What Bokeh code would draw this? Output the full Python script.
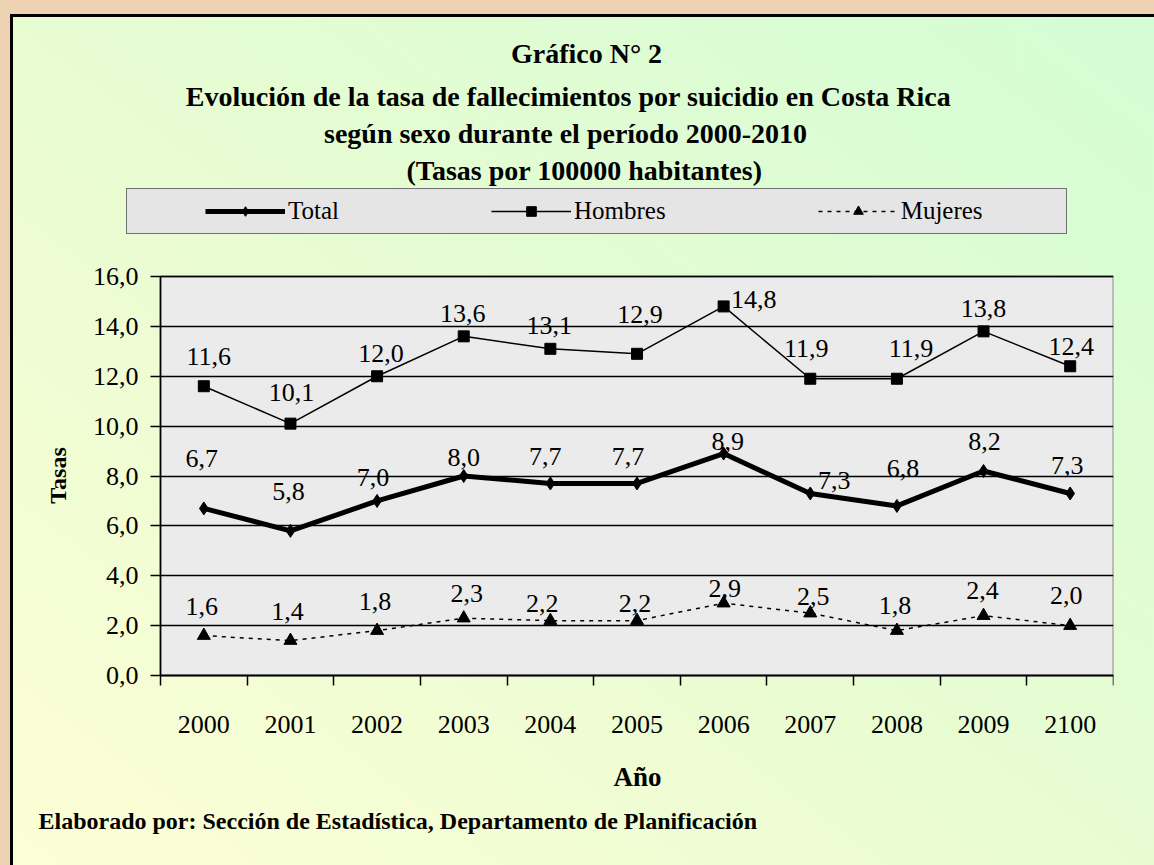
import math
from bokeh.plotting import figure
from bokeh.models import (Legend, LegendItem, FixedTicker, ColumnDataSource, Range1d, Label)
from bokeh.core.properties import value
from bokeh.embed import file_html
from bokeh.resources import INLINE

# ---------------- data ----------------
years = ["2000", "2001", "2002", "2003", "2004", "2005", "2006", "2007", "2008", "2009", "2100"]
total = [6.7, 5.8, 7.0, 8.0, 7.7, 7.7, 8.9, 7.3, 6.8, 8.2, 7.3]
hombres = [11.6, 10.1, 12.0, 13.6, 13.1, 12.9, 14.8, 11.9, 11.9, 13.8, 12.4]
mujeres = [1.6, 1.4, 1.8, 2.3, 2.2, 2.2, 2.9, 2.5, 1.8, 2.4, 2.0]
y_ticks = [0, 2, 4, 6, 8, 10, 12, 14, 16]
y_tick_labels = ["0,0", "2,0", "4,0", "6,0", "8,0", "10,0", "12,0", "14,0", "16,0"]
series_names = ["Total", "Hombres", "Mujeres"]

title_lines = [
    "Gráfico N° 2",
    "Evolución de la tasa de fallecimientos por suicidio en Costa Rica",
    "según sexo durante el período 2000-2010",
    "(Tasas por 100000 habitantes)",
]
x_title = "Año"
y_title = "Tasas"
footer = "Elaborado por: Sección de Estadística, Departamento de Planificación"

# ---------------- label placement (style, screen px) ----------------
tot_dx = [-2, -2, -4, 0, -5, -9, 4, 24, 6, 1, -3]
tot_dy = [-50, -39, -23, -19, -27, -27, -12, -13, -37, -30, -28]
hom_dx = [5, 1, 4, -1, -1, 3, 30, -4, 14, 0, 1]
hom_dy = [-30, -31, -23, -23, -23, -39, -7, -30, -30, -23, -20]
muj_dx = [-2, -3, -2, 3, -8, -2, 1, 3, -2, -1, -4]
muj_dy = [-29, -29, -29, -25, -17, -17, -15, -17, -25, -25, -30]

SERIF = "Liberation Serif"
W, H = 1154, 865
PL, PR, PT, PB = 160, 1113, 276, 675    # plotting area (0..11 x 0..16) in canvas px
FL, FT, FBF = 20, 20, 860                # the frame is larger so texts/legend live inside it
NX = len(years)
YMAX = max(y_ticks)
XPX = (PR - PL) / NX                     # px per x unit
YPX = (PB - PT) / YMAX                   # px per y unit


def fmt(v):
    return f"{v:.1f}".replace(".", ",")


def px_to_data(cx, cy):
    return ((cx - PL) / XPX, (PB - cy) / YPX)


xs = [i + 0.5 for i in range(NX)]

p = figure(width=W, height=H, output_backend="svg", toolbar_location=None,
           x_range=Range1d(-(PL - FL) / XPX, NX),
           y_range=Range1d(-(FBF - PB) / YPX, (PB - FT) / YPX),
           min_border_left=FL, min_border_top=FT,
           min_border_right=W - PR, min_border_bottom=H - FBF)
p.title.visible = False

p.styles = {
    "background": "linear-gradient(to top right, #fdfed5 0%, #e8fcd2 50%, #d3fdd5 100%)",
    "box-shadow": "inset 10px 14px 0 0 #edd3b4, inset 13px 17px 0 0 #000000",
}
p.border_fill_alpha = 0
p.background_fill_alpha = 0
p.outline_line_color = None

# plotting-area background (below the grid)
p.quad(left=[0], right=[NX], bottom=[0], top=[YMAX], fill_color="#ebebeb",
       line_color="#8c8c8c", line_width=2, level="image")

# axes (pinned to the plotting area's edges)
p.xaxis.ticker = FixedTicker(ticks=xs, minor_ticks=list(range(NX + 1)))
p.xaxis.bounds = (0, NX)
p.xaxis.fixed_location = 0
p.xaxis.major_label_overrides = {x: y for x, y in zip(xs, years)}
p.xaxis.major_tick_out = 0
p.xaxis.major_tick_in = 0
p.xaxis.minor_tick_out = 10
p.xaxis.minor_tick_in = 0
p.xaxis.minor_tick_line_color = "black"
p.xaxis.minor_tick_line_width = 1.5
p.xaxis.major_label_standoff = 30

p.yaxis.ticker = FixedTicker(ticks=y_ticks)
p.yaxis.bounds = (0, YMAX)
p.yaxis.fixed_location = 0
p.yaxis.major_label_overrides = {t: l for t, l in zip(y_ticks, y_tick_labels)}
p.yaxis.major_tick_out = 10
p.yaxis.major_tick_in = 0
p.yaxis.minor_tick_line_color = None
p.yaxis.major_label_standoff = 12

for ax in (p.xaxis, p.yaxis):
    ax.axis_line_color = "black"
    ax.axis_line_width = 1.5
    ax.major_tick_line_width = 1.5
    ax.major_label_text_font = SERIF
    ax.major_label_text_font_size = "26px"
    ax.major_label_text_color = "black"
p.xaxis.major_tick_line_color = None
p.yaxis.major_tick_line_color = "black"

p.xgrid.visible = False
p.ygrid.ticker = FixedTicker(ticks=y_ticks)
p.ygrid.grid_line_color = "black"
p.ygrid.grid_line_width = 1.5
if "cross_bounds" in p.ygrid[0].properties():
    p.ygrid.cross_bounds = (0, NX)
else:
    p.ygrid.visible = False
    p.segment(x0=[0] * len(y_ticks), x1=[NX] * len(y_ticks), y0=y_ticks, y1=y_ticks,
              line_color="black", line_width=1.5, level="underlay")

# axis titles
tx, ty = px_to_data(57, 475)
p.add_layout(Label(x=tx, y=ty, text=y_title, angle=math.pi / 2, text_align="center",
                   text_baseline="middle", text_font=SERIF, text_font_style="bold",
                   text_font_size="24px", text_color="black"))
tx, ty = px_to_data(637, 776)
p.add_layout(Label(x=tx, y=ty, text=x_title, text_align="center",
                   text_baseline="middle", text_font=SERIF, text_font_style="bold",
                   text_font_size="27px", text_color="black"))

# ---------------- series ----------------
src = ColumnDataSource(dict(
    x=xs, total=total, hombres=hombres, mujeres=mujeres,
    tl=[fmt(v) for v in total], hl=[fmt(v) for v in hombres], ml=[fmt(v) for v in mujeres],
    tdx=tot_dx, tdy=tot_dy, hdx=hom_dx, hdy=hom_dy, mdx=muj_dx, mdy=muj_dy,
))

l_t = p.line("x", "total", source=src, line_color="black", line_width=5)
s_t = p.scatter("x", "total", source=src, marker="diamond", size=13, color="black")
l_h = p.line("x", "hombres", source=src, line_color="black", line_width=1.5)
s_h = p.scatter("x", "hombres", source=src, marker="square", size=11, color="black")
l_m = p.line("x", "mujeres", source=src, line_color="black", line_width=1.5, line_dash="4 5")
s_m = p.scatter("x", "mujeres", source=src, marker="triangle", size=13, color="black")

for ycol, tcol, dxc, dyc in (("total", "tl", "tdx", "tdy"),
                             ("hombres", "hl", "hdx", "hdy"),
                             ("mujeres", "ml", "mdx", "mdy")):
    p.text("x", ycol, text=tcol, source=src, x_offset=dxc, y_offset=dyc,
           text_align="center", text_baseline="middle", text_font=value(SERIF),
           text_font_size="26px", text_color="black")

# ---------------- legend (inside the frame) ----------------
NBSP = "\u00a0"
legend = Legend(items=[
    LegendItem(label=series_names[0], renderers=[l_t, s_t]),
    LegendItem(label=series_names[1], renderers=[l_h, s_h]),
    LegendItem(label=series_names[2] + NBSP * 12, renderers=[l_m, s_m]),
], orientation="horizontal", location=(126 - FL, FBF - 234), margin=0,
    spacing=152, glyph_width=80, glyph_height=24, label_height=24,
    label_standoff=3, padding=8,
    title=NBSP, title_location="left", title_text_font_size="2px", title_standoff=68,
    background_fill_color="#e5e5e5", background_fill_alpha=1,
    border_line_color="black", border_line_width=1.5,
    label_text_font=SERIF, label_text_font_size="25px", label_text_color="black")
p.add_layout(legend)

# ---------------- titles ----------------
title_cx = [586, 568, 565, 584]
title_cy = [53, 96, 133, 170]
for txt, cx, cy in zip(title_lines, title_cx, title_cy):
    tx, ty = px_to_data(cx, cy)
    p.add_layout(Label(x=tx, y=ty, text=txt, text_align="center", text_baseline="middle",
                       text_font=SERIF, text_font_style="bold", text_font_size="28px",
                       text_color="black"))

# ---------------- footer ----------------
tx, ty = px_to_data(38, 820)
p.add_layout(Label(x=tx, y=ty, text=footer, text_align="left", text_baseline="middle",
                   text_font=SERIF, text_font_style="bold", text_font_size="24px",
                   text_color="black"))

open("out.html", "w").write(file_html(p, INLINE))
